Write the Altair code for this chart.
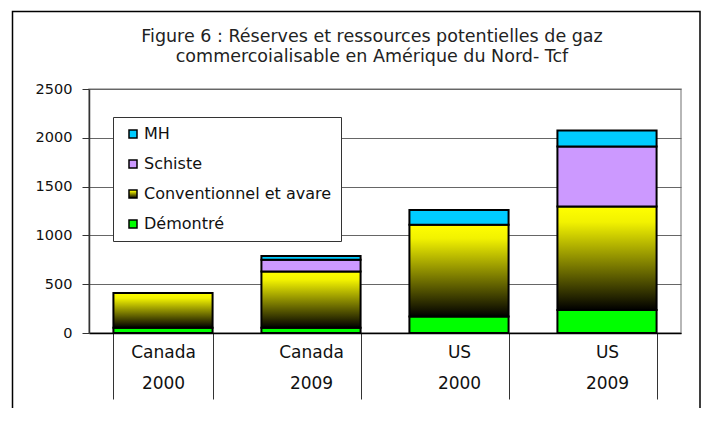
import altair as alt
import pandas as pd

categories = ["Canada|2000", "Canada|2009", "US|2000", "US|2009"]
series = ["MH", "Schiste", "Conventionnel et avare", "Démontré"]
stack_order = {"Démontré": 0, "Conventionnel et avare": 1, "Schiste": 2, "MH": 3}

demontre = [55, 55, 170, 235]
conventionnel = [355, 575, 940, 1060]
schiste = [0, 120, 0, 615]
mh = [0, 40, 150, 165]

title_lines = [
    "Figure 6 : Réserves et ressources potentielles de gaz",
    "commercoialisable en Amérique du Nord- Tcf",
]
y_ticks = [0, 500, 1000, 1500, 2000, 2500]

rows = []
for name, vals in [("Démontré", demontre), ("Conventionnel et avare", conventionnel),
                   ("Schiste", schiste), ("MH", mh)]:
    for c, v in zip(categories, vals):
        rows.append({"cat": c, "serie": name, "value": v, "ord": stack_order[name]})
df = pd.DataFrame(rows)

FONT = "DejaVu Sans"
gradient = ("{gradient:'linear',x1:0,y1:0,x2:0,y2:1,"
            "stops:[{offset:0,color:'#ffff00'},{offset:0.15,color:'#f2f200'},"
            "{offset:1,color:'#000000'}]}")

color_scale = alt.Scale(
    domain=series,
    range=["#00ccff", "#cc99ff", alt.ExprRef(gradient), "#00ff00"],
)

bars = alt.Chart(df).transform_filter("datum.value > 0").mark_bar(
    stroke="black", strokeWidth=2
).encode(
    x=alt.X("cat:N", sort=categories,
            scale=alt.Scale(paddingInner=0.33, paddingOuter=0.165),
            axis=alt.Axis(title=None, labelAngle=0, tickBand="extent", tickSize=66,
                          labelPadding=-55, labelBaseline="top",
                          labelExpr="split(datum.label, '|')", labelLineHeight=31,
                          labelFont=FONT, labelFontSize=17, labelColor="#111",
                          domainColor="#000", domainWidth=1.5,
                          tickColor="#333", tickWidth=1, grid=False)),
    y=alt.Y("value:Q", stack="zero",
            scale=alt.Scale(domain=[0, 2500], nice=False),
            axis=alt.Axis(title=None, values=y_ticks, format="d", tickSize=7,
                          labelPadding=10,
                          labelFont=FONT, labelFontSize=14.5, labelColor="#111",
                          domainColor="#333", tickColor="#333", gridColor="#666",
                          gridWidth=1, domainWidth=1.5)),
    color=alt.Color("serie:N", scale=color_scale,
                    legend=alt.Legend(title=None, orient="none", legendX=24, legendY=28,
                                      fillColor="white", strokeColor="#333",
                                      padding=9, symbolOffset=3,
                                      symbolType="square", symbolSize=64,
                                      symbolStrokeColor="black", symbolStrokeWidth=1.5,
                                      labelFont=FONT, labelFontSize=16, labelColor="#111",
                                      labelLimit=400,
                                      rowPadding=14, labelOffset=3)),
    order=alt.Order("ord:Q", sort="ascending"),
)

frame = alt.Chart(pd.DataFrame({"a": [0]})).mark_rect(
    filled=False, stroke="black", strokeWidth=1.5
).encode(
    x=alt.value(-76.5), x2=alt.value(611), y=alt.value(-77.5), y2=alt.value(400)
)

chart = alt.layer(bars, frame).properties(
    width=592, height=244,
    autosize=alt.AutoSizeParams(type="none"),
    padding={"left": 81, "top": 81, "right": 21, "bottom": 75},
    title=alt.TitleParams(text=title_lines, anchor="middle", dx=-13, offset=-55,
                          font=FONT, fontSize=17.5, fontWeight="normal",
                          color="#222", lineHeight=20),
).configure_view(stroke="#a0a0a0", strokeWidth=1.5)

chart.save("out.html", embed_options={"renderer": "svg", "actions": False})
